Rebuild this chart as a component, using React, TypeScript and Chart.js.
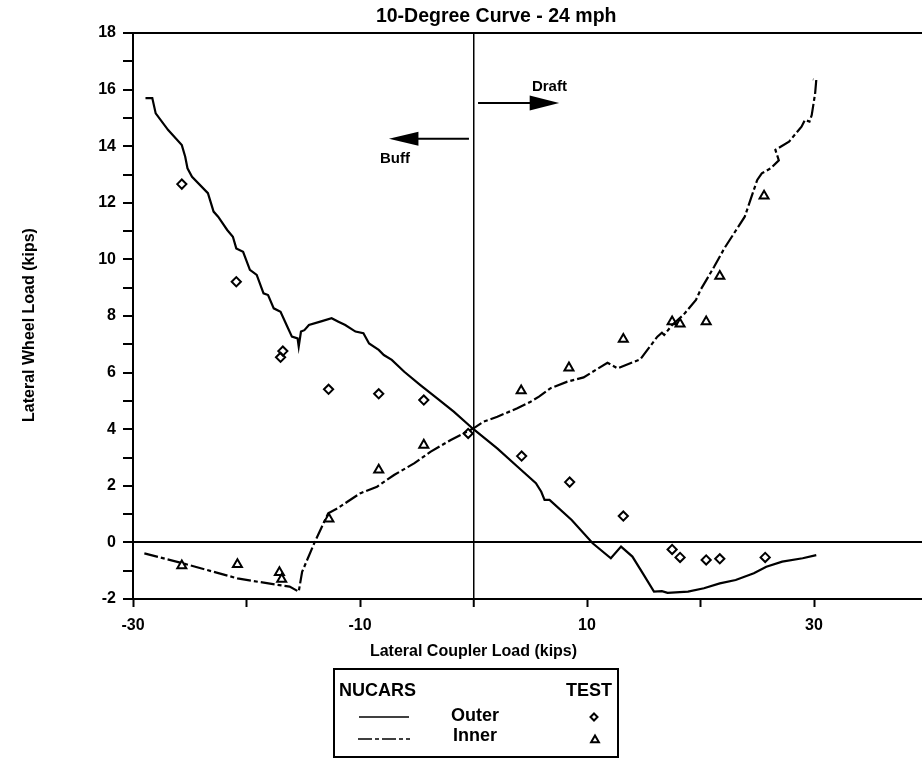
import React, { useEffect, useRef } from "react";
import { Chart, registerables } from "chart.js";

Chart.register(...registerables);

// ---------- data ----------
const outerNucarsX = [-28.9, -28.3, -28.0, -26.9, -25.7, -25.4, -25.2, -24.8, -23.4, -22.9, -22.5, -21.7, -21.2, -20.9, -20.3, -19.7, -19.1, -18.5, -18.1, -17.6, -17.0, -16.4, -16.0, -15.5, -15.4, -15.2, -14.9, -14.5, -13.5, -12.5, -11.9, -11.3, -10.4, -9.7, -9.2, -8.35, -7.9, -7.2, -6.1, -4.68, -3.2, -1.74, 0, 2.09, 3.86, 5.5, 5.97, 6.26, 6.7, 8.65, 10.5, 12.1, 13.0, 14.0, 15.0, 15.9, 16.6, 17.1, 18.9, 20.3, 21.7, 23.1, 24.7, 25.8, 27.2, 29.0, 30.2];
const outerNucarsY = [15.7, 15.7, 15.16, 14.57, 14.04, 13.63, 13.22, 12.92, 12.34, 11.69, 11.51, 11.04, 10.8, 10.39, 10.27, 9.63, 9.45, 8.8, 8.74, 8.27, 8.15, 7.62, 7.27, 7.21, 6.92, 7.45, 7.5, 7.68, 7.8, 7.92, 7.8, 7.68, 7.45, 7.39, 7.03, 6.8, 6.62, 6.45, 6.03, 5.56, 5.09, 4.62, 4.0, 3.32, 2.68, 2.09, 1.79, 1.5, 1.5, 0.79, -0.03, -0.56, -0.15, -0.5, -1.15, -1.74, -1.72, -1.78, -1.74, -1.62, -1.45, -1.33, -1.09, -0.86, -0.68, -0.56, -0.45];

const innerNucarsX = [-29.0, -25.6, -20.8, -19.0, -17.1, -16.2, -15.4, -15.1, -14.0, -12.8, -12.0, -10.0, -8.5, -7.0, -5.2, -3.8, -2.0, 0, 0.9, 2.1, 3.86, 5.03, 5.77, 6.8, 8.27, 9.7, 11.8, 12.7, 14.7, 16.2, 16.6, 16.8, 17.5, 18.5, 19.6, 20.0, 21.2, 22.1, 23.9, 25.0, 25.4, 26.2, 26.9, 26.6, 27.8, 28.9, 29.2, 29.6, 29.8, 30.1, 30.2, 29.9];
const innerNucarsY = [-0.39, -0.74, -1.27, -1.39, -1.51, -1.56, -1.74, -1.04, 0, 1.03, 1.2, 1.73, 1.97, 2.38, 2.8, 3.2, 3.62, 4.03, 4.27, 4.44, 4.74, 4.97, 5.15, 5.45, 5.68, 5.83, 6.35, 6.15, 6.47, 7.27, 7.41, 7.33, 7.68, 8.04, 8.57, 8.92, 9.74, 10.39, 11.51, 12.81, 13.04, 13.22, 13.5, 13.87, 14.16, 14.69, 14.93, 14.87, 15.1, 15.87, 16.34, 16.36];

const outerTestX = [-25.7, -20.9, -17.0, -16.8, -12.77, -8.35, -4.38, -0.47, 4.24, 8.47, 13.2, 17.5, 18.2, 20.5, 21.7, 25.7];
const outerTestY = [12.66, 9.21, 6.54, 6.76, 5.41, 5.25, 5.03, 3.85, 3.05, 2.13, 0.93, -0.25, -0.53, -0.62, -0.58, -0.53];

const innerTestX = [-25.7, -20.8, -17.1, -16.9, -12.74, -8.35, -4.38, 4.2, 8.41, 13.2, 17.5, 18.2, 20.5, 21.7, 25.6];
const innerTestY = [-0.82, -0.78, -1.06, -1.3, 0.83, 2.56, 3.44, 5.36, 6.17, 7.18, 7.8, 7.72, 7.8, 9.41, 12.24];

const xTickLabels = [-30, -10, 10, 30];
const yTickLabels = [-2, 0, 2, 4, 6, 8, 10, 12, 14, 16, 18];

const titleText = "10-Degree Curve - 24 mph";
const xAxisTitle = "Lateral Coupler Load (kips)";
const yAxisTitle = "Lateral Wheel Load (kips)";
const legendHeaders = ["NUCARS", "TEST"];
const legendNames = ["Outer", "Inner"];
const arrowLabels = ["Draft", "Buff"];

const FONT = "'Liberation Sans', Arial, Helvetica, sans-serif";
const INNER_DASH = [14, 3, 4, 3];

const toPts = (xs: number[], ys: number[]) => xs.map((x, i) => ({ x, y: ys[i] }));

function drawDiamond(ctx: CanvasRenderingContext2D, x: number, y: number, r: number) {
  ctx.beginPath();
  ctx.moveTo(x, y - r);
  ctx.lineTo(x + r, y);
  ctx.lineTo(x, y + r);
  ctx.lineTo(x - r, y);
  ctx.closePath();
  ctx.stroke();
}
function drawTriangle(ctx: CanvasRenderingContext2D, x: number, y: number, r: number) {
  ctx.beginPath();
  ctx.moveTo(x, y - r);
  ctx.lineTo(x + r * 0.866, y + r * 0.5);
  ctx.lineTo(x - r * 0.866, y + r * 0.5);
  ctx.closePath();
  ctx.stroke();
}

const decorPlugin = {
  id: "decor",
  afterDraw(chart: any) {
    const ctx: CanvasRenderingContext2D = chart.ctx;
    const xs = chart.scales.x;
    const ys = chart.scales.y;
    const px = (v: number) => xs.getPixelForValue(v);
    const py = (v: number) => ys.getPixelForValue(v);
    ctx.save();
    ctx.fillStyle = "#000";
    ctx.strokeStyle = "#000";

    // title
    ctx.font = `bold 19.5px ${FONT}`;
    ctx.textAlign = "center";
    ctx.textBaseline = "middle";
    ctx.fillText(titleText, px(2.0), 17);

    // axis titles
    ctx.font = `bold 16px ${FONT}`;
    ctx.fillText(xAxisTitle, px(0), 652);
    ctx.save();
    ctx.translate(30, 325);
    ctx.rotate(-Math.PI / 2);
    ctx.fillText(yAxisTitle, 0, 0);
    ctx.restore();

    // Draft arrow
    ctx.lineWidth = 2;
    const dy = py(15.53);
    ctx.beginPath();
    ctx.moveTo(px(0.4), dy);
    ctx.lineTo(px(5.2), dy);
    ctx.stroke();
    ctx.beginPath();
    ctx.moveTo(px(7.55), dy);
    ctx.lineTo(px(4.95), dy - 7.5);
    ctx.lineTo(px(4.95), dy + 7.5);
    ctx.closePath();
    ctx.fill();
    // Buff arrow
    const by = py(14.26);
    ctx.beginPath();
    ctx.moveTo(px(-0.4), by);
    ctx.lineTo(px(-5.1), by);
    ctx.stroke();
    ctx.beginPath();
    ctx.moveTo(px(-7.45), by);
    ctx.lineTo(px(-4.85), by - 7);
    ctx.lineTo(px(-4.85), by + 7);
    ctx.closePath();
    ctx.fill();

    ctx.font = `bold 15px ${FONT}`;
    ctx.textAlign = "left";
    ctx.fillText(arrowLabels[0], px(5.15), py(16.11));
    ctx.fillText(arrowLabels[1], px(-8.24), py(13.57));

    // legend box
    ctx.lineWidth = 2;
    ctx.strokeRect(334, 669, 284, 88);
    ctx.font = `bold 18px ${FONT}`;
    ctx.textAlign = "left";
    ctx.fillText(legendHeaders[0], 339, 691);
    ctx.textAlign = "right";
    ctx.fillText(legendHeaders[1], 612, 691);
    ctx.textAlign = "left";
    ctx.fillText(legendNames[0], 451, 716);
    ctx.fillText(legendNames[1], 453, 736);

    ctx.lineWidth = 1.6;
    ctx.beginPath();
    ctx.moveTo(359, 717);
    ctx.lineTo(409, 717);
    ctx.stroke();
    ctx.setLineDash(INNER_DASH);
    ctx.beginPath();
    ctx.moveTo(358, 739);
    ctx.lineTo(410, 739);
    ctx.stroke();
    ctx.setLineDash([]);

    ctx.lineWidth = 2;
    drawDiamond(ctx, 594, 717, 3.5);
    drawTriangle(ctx, 595, 740, 4.5);

    ctx.restore();
  },
};

export default function App() {
  const ref = useRef<HTMLCanvasElement | null>(null);

  useEffect(() => {
    if (!ref.current) return;
    Chart.defaults.font.family = FONT;
    Chart.defaults.color = "#000";
    const chart = new Chart(ref.current, {
      type: "scatter",
      data: {
        datasets: [
          {
            label: "Outer NUCARS",
            data: toPts(outerNucarsX, outerNucarsY),
            showLine: true,
            borderColor: "#000",
            borderWidth: 2.2,
            pointRadius: 0,
            tension: 0,
          },
          {
            label: "Inner NUCARS",
            data: toPts(innerNucarsX, innerNucarsY),
            showLine: true,
            borderColor: "#000",
            borderWidth: 2.2,
            borderDash: INNER_DASH,
            pointRadius: 0,
            tension: 0,
          },
          {
            label: "Outer TEST",
            data: toPts(outerTestX, outerTestY),
            showLine: false,
            pointStyle: "rectRot",
            pointRadius: 4.6,
            pointBorderWidth: 2,
            pointBorderColor: "#000",
            pointBackgroundColor: "rgba(0,0,0,0)",
          },
          {
            label: "Inner TEST",
            data: toPts(innerTestX, innerTestY),
            showLine: false,
            pointStyle: "triangle",
            pointRadius: 5.2,
            pointBorderWidth: 2,
            pointBorderColor: "#000",
            pointBackgroundColor: "rgba(0,0,0,0)",
          },
        ],
      },
      options: {
        animation: false,
        responsive: false,
        maintainAspectRatio: false,
        layout: { padding: { left: 0, top: 33, right: 12.5, bottom: 0 } },
        plugins: {
          legend: { display: false },
          title: { display: false },
          tooltip: { enabled: false },
        },
        scales: {
          x: {
            type: "linear",
            min: -30,
            max: 40,
            afterFit: (s: any) => {
              s.height = 161;
            },
            ticks: {
              stepSize: 10,
              autoSkip: false,
              maxRotation: 0,
              padding: 9,
              color: "#000",
              font: { size: 16, weight: "bold" },
              callback: (v: any) => (xTickLabels.includes(Number(v)) ? String(v) : ""),
            },
            grid: {
              drawOnChartArea: true,
              color: (c: any) => (c.tick && c.tick.value === 0 ? "#000" : "rgba(0,0,0,0)"),
              lineWidth: (c: any) => (c.tick && c.tick.value === 0 ? 1.5 : 1),
              tickColor: "#000",
              tickWidth: 2,
              tickLength: 8,
            },
            border: { display: true, color: "#000", width: 2 },
          },
          y: {
            type: "linear",
            min: -2,
            max: 18,
            afterFit: (s: any) => {
              s.width = 133;
            },
            ticks: {
              stepSize: 1,
              autoSkip: false,
              padding: 7,
              color: "#000",
              font: { size: 16, weight: "bold" },
              callback: (v: any) => (yTickLabels.includes(Number(v)) ? String(v) : ""),
            },
            grid: {
              drawOnChartArea: true,
              color: (c: any) =>
                c.tick && (c.tick.value === 0 || c.tick.value === 18) ? "#000" : "rgba(0,0,0,0)",
              lineWidth: 2,
              tickColor: "#000",
              tickWidth: 2,
              tickLength: 10,
            },
            border: { display: true, color: "#000", width: 2 },
          },
        },
      },
      plugins: [decorPlugin],
    });
    return () => chart.destroy();
  }, []);

  return (
    <div
      style={{
        position: "fixed",
        left: 0,
        top: 0,
        width: 922,
        height: 760,
        overflow: "hidden",
        background: "#fff",
      }}
    >
      <canvas ref={ref} width={940} height={760} style={{ width: 940, height: 760, display: "block" }} />
    </div>
  );
}
